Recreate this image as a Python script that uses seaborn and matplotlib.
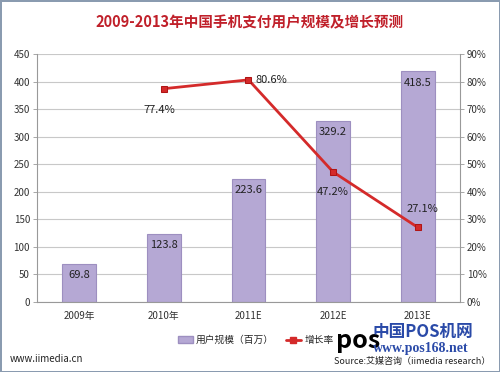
import matplotlib
matplotlib.use('Agg')
import matplotlib.pyplot as plt
import seaborn as sns
import pandas as pd
from matplotlib.ticker import PercentFormatter
from matplotlib.patches import Patch
from matplotlib.lines import Line2D

# data
years = ['2009年', '2010年', '2011E', '2012E', '2013E']
users = [69.8, 123.8, 223.6, 329.2, 418.5]
growth_years = ['2010年', '2011E', '2012E', '2013E']
growth = [77.4, 80.6, 47.2, 27.1]

sns.set_theme(style="white")
plt.rcParams['font.family'] = ['Noto Sans CJK SC', 'DejaVu Sans']

df = pd.DataFrame({'year': years, 'users': users})
gdf = pd.DataFrame({'x': [years.index(y) for y in growth_years], 'growth': growth})

fig = plt.figure(figsize=(5, 3.72), dpi=100)
fig.patch.set_edgecolor('#8a9bb0')
fig.patch.set_linewidth(2)
ax = fig.add_axes([0.074, 0.188, 0.846, 0.667])

sns.barplot(data=df, x='year', y='users', color='#b5a8d4', width=0.4,
            edgecolor='#9d8fc0', linewidth=0.8, saturation=1, ax=ax, zorder=2)
ax.set_ylim(0, 450)
ax.set_yticks(range(0, 451, 50))
ax.grid(axis='y', color='#c8c8c8', linewidth=0.8, zorder=0)
ax.set_axisbelow(True)
ax.set_xlabel('')
ax.set_ylabel('')
for s in ['top', 'right']:
    ax.spines[s].set_visible(False)
for s in ['left', 'bottom']:
    ax.spines[s].set_color('#999999')
    ax.spines[s].set_linewidth(0.8)
ax.tick_params(axis='both', labelsize=7, colors='#333333', length=3, width=0.6, color='#999999')
ax.tick_params(axis='y', direction='out', pad=2)

for i, v in enumerate(users):
    ax.text(i, v - 12, f'{v}', ha='center', va='top', fontsize=8, color='#222222', zorder=3)

ax2 = ax.twinx()
sns.lineplot(data=gdf, x='x', y='growth', color='#d42a2a', linewidth=2,
             marker='s', markersize=5, markeredgecolor='#b01515', ax=ax2, zorder=4)
ax2.set_ylim(0, 90)
ax2.set_yticks(range(0, 91, 10))
ax2.yaxis.set_major_formatter(PercentFormatter(decimals=0))
ax2.set_ylabel('')
ax2.set_xlabel('')
ax2.set_xlim(-0.5, 4.5)
for s in ['top', 'left', 'bottom']:
    ax2.spines[s].set_visible(False)
ax2.spines['right'].set_color('#999999')
ax2.spines['right'].set_linewidth(0.8)
ax2.tick_params(axis='y', labelsize=7, colors='#333333', length=3, width=0.6, color='#999999', pad=2)

offsets = [(-0.05, -7.6, 'center'), (0.08, 0, 'left'), (0.0, -7.3, 'center'), (0.05, 6.8, 'center')]
for (x, g), (dx, dy, ha) in zip(zip(gdf['x'], growth), offsets):
    ax2.text(x + dx, g + dy, f'{g}%', ha=ha, va='center', fontsize=8, color='#222222', zorder=5)

fig.text(0.5, 0.94, '2009-2013年中国手机支付用户规模及增长预测', ha='center', va='center',
         fontsize=10.5, fontweight='bold', color='#c0202a')

# legend
handles = [Patch(facecolor='#b5a8d4', edgecolor='#9d8fc0'),
           Line2D([0], [0], color='#d42a2a', marker='s', markersize=4, linewidth=2)]
fig.legend(handles, ['用户规模（百万）', '增长率'], loc='center left', bbox_to_anchor=(0.355, 0.086),
           ncol=2, frameon=False, fontsize=7, handlelength=1.6, handletextpad=0.3,
           columnspacing=1.2, borderpad=0, borderaxespad=0)

# watermark and source
fig.text(0.672, 0.083, 'pos', fontsize=18, fontweight='bold', color='black', ha='left', va='center')
fig.text(0.745, 0.107, '中国POS机网', fontsize=12, fontweight='bold', color='#2a4aa8', ha='left', va='center')
fig.text(0.745, 0.062, 'www.pos168.net', fontsize=10, fontweight='bold', color='#2a4aa8', ha='left', va='center',
         family=['Liberation Serif', 'DejaVu Serif'])
fig.text(0.98, 0.028, 'Source:艾媒咨询（iimedia research）', fontsize=6.5, color='#222222', ha='right', va='center')
fig.text(0.02, 0.035, 'www.iimedia.cn', fontsize=7, color='#222222', ha='left', va='center')

fig.savefig('out.png', dpi=100)
